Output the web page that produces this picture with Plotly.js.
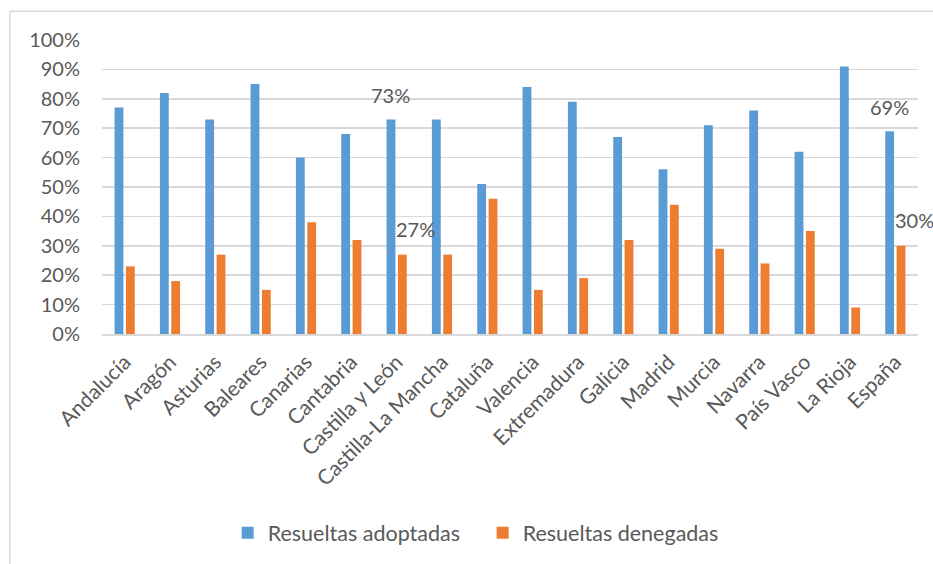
<!DOCTYPE html>
<html>
<head>
<meta charset="utf-8">
<script src="https://cdn.plot.ly/plotly-3.0.1.min.js"></script>
<style>html,body{margin:0;padding:0;background:#fff;}#chart{width:933px;height:564px;}</style>
</head>
<body>
<div id="chart"></div>
<script>
const categories = ["Andalucía","Aragón","Asturias","Baleares","Canarias","Cantabria","Castilla y León","Castilla-La Mancha","Cataluña","Valencia","Extremadura","Galicia","Madrid","Murcia","Navarra","País Vasco","La Rioja","España"];
const adoptadas = [77,82,73,85,60,68,73,73,51,84,79,67,56,71,76,62,91,69];
const denegadas = [23,18,27,15,38,32,27,27,46,15,19,32,44,29,24,35,9,30];
const seriesNames = ["Resueltas adoptadas","Resueltas denegadas"];
const labelled = ["Castilla y León","España"];

const FONT = "Lato, 'Open Sans', sans-serif";
const GREY = "#595959";

const traces = [
  {type:"bar", name:seriesNames[0], x:categories, y:adoptadas, marker:{color:"#5B9BD5"}, hoverinfo:"x+y"},
  {type:"bar", name:seriesNames[1], x:categories, y:denegadas, marker:{color:"#ED7D31"}, hoverinfo:"x+y"}
];

const annotations = [];
labelled.forEach(c => {
  const i = categories.indexOf(c);
  annotations.push({x:c, y:adoptadas[i], xref:"x", yref:"y", text:adoptadas[i]+"%", showarrow:false,
    xshift:-6, yshift:24, font:{family:FONT, size:20, color:GREY}});
  annotations.push({x:c, y:denegadas[i], xref:"x", yref:"y", text:denegadas[i]+"%", showarrow:false,
    xshift:19, yshift:26, font:{family:FONT, size:20, color:GREY}});
});

const layout = {
  width:933, height:564,
  margin:{l:102, r:15, t:40, b:229},
  paper_bgcolor:"#fff", plot_bgcolor:"#fff",
  font:{family:FONT, color:GREY, size:20},
  barmode:"group", bargap:0.5, bargroupgap:0.22,
  showlegend:true,
  legend:{orientation:"h", x:0.154, xanchor:"left", y:-0.67, yanchor:"middle", entrywidth:210,
    font:{family:FONT, size:21.5, color:GREY}, itemclick:false, traceorder:"normal"},
  xaxis:{type:"category", range:[-0.5, categories.length-0.5], tickangle:-45, showgrid:false, showline:true,
    linecolor:"#D9D9D9", linewidth:1.5, ticklabelstandoff:6,
    automargin:false, ticks:"", tickfont:{family:FONT, size:21, color:GREY}, fixedrange:true},
  yaxis:{range:[0,100], dtick:10, ticksuffix:"%", showgrid:true, gridcolor:"#D9D9D9", gridwidth:1.5,
    automargin:false, zeroline:false, showline:false, ticks:"", ticklabelstandoff:21,
    tickfont:{family:FONT, size:20, color:GREY}, fixedrange:true},
  annotations:annotations,
  shapes:[
    {type:"line", xref:"paper", yref:"paper", x0:-0.113, x1:1.1, y0:1.098, y1:1.098, line:{color:"#D9D9D9", width:1.5}},
    {type:"line", xref:"paper", yref:"paper", x0:-0.113, x1:-0.113, y0:1.098, y1:-0.8, line:{color:"#D9D9D9", width:1.5}}
  ]
};

Plotly.newPlot("chart", traces, layout, {displayModeBar:false, staticPlot:true});
</script>
</body>
</html>
